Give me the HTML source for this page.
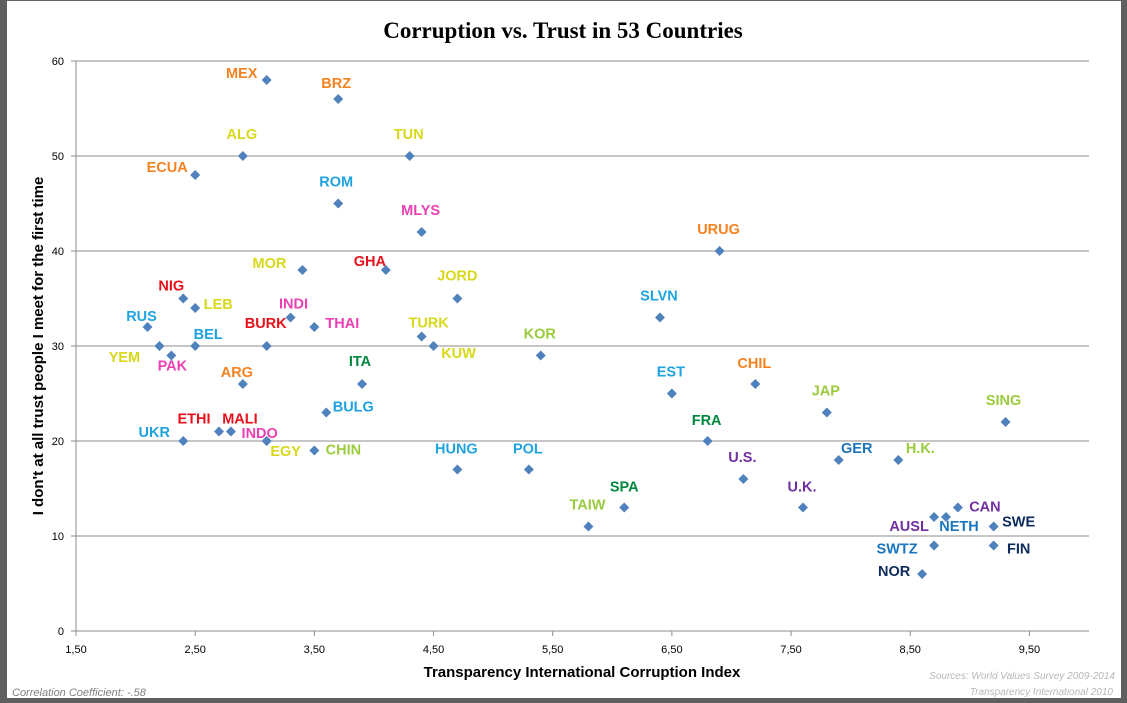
<!DOCTYPE html>
<html><head><meta charset="utf-8"><style>
html,body{margin:0;padding:0;background:#fff;}
body{width:1127px;height:703px;overflow:hidden;position:relative;}
.frame{position:absolute;left:0;top:0;width:1127px;height:703px;box-sizing:border-box;border-left:7px solid #5f5f5f;border-right:6px solid #5f5f5f;border-bottom:5px solid #5f5f5f;border-top:1px solid #5f5f5f;}
svg{position:absolute;left:0;top:0;}
</style></head><body>
<div class="frame"></div>
<svg width="1127" height="703" id="chart" font-family="Liberation Sans, sans-serif">
<text x="563" y="38" text-anchor="middle" font-family="Liberation Serif, serif" font-weight="bold" font-size="23" fill="#000">Corruption vs. Trust in 53 Countries</text>
<g id="grid"></g><g id="axes"></g><g id="marks"></g>
<text transform="translate(43,346) rotate(-90)" text-anchor="middle" font-weight="bold" font-size="15" fill="#000">I don't at all trust people I meet for the first time</text>
<text x="582" y="677" text-anchor="middle" font-weight="bold" font-size="15" fill="#000">Transparency International Corruption Index</text>
<text x="12" y="696" font-style="italic" font-size="11" fill="#808080">Correlation Coefficient: -.58</text>
<text x="1115" y="679" text-anchor="end" font-style="italic" font-size="10" fill="#b8b8b8">Sources: World Values Survey 2009-2014</text>
<text x="1113" y="695" text-anchor="end" font-style="italic" font-size="10" fill="#b8b8b8">Transparency International 2010</text>
</svg>
<script>
const countries=["MEX","BRZ","ALG","TUN","ECUA","ROM","MLYS","URUG","MOR","GHA","JORD","NIG","LEB","INDI","THAI","RUS","SLVN","BURK","BEL","YEM","PAK","TURK","KUW","KOR","ARG","ITA","CHIL","EST","JAP","SING","BULG","UKR","ETHI","MALI","INDO","EGY","CHIN","FRA","HUNG","POL","U.S.","GER","H.K.","SPA","TAIW","U.K.","CAN","AUSL","NETH","SWE","SWTZ","FIN","NOR"];
const corruption=[3.1,3.7,2.9,4.3,2.5,3.7,4.4,6.9,3.4,4.1,4.7,2.4,2.5,3.3,3.5,2.1,6.4,3.1,2.5,2.2,2.3,4.4,4.5,5.4,2.9,3.9,7.2,6.5,7.8,9.3,3.6,2.4,2.7,2.8,3.1,3.1,3.5,6.8,4.7,5.3,7.1,7.9,8.4,6.1,5.8,7.6,8.9,8.7,8.8,9.2,8.7,9.2,8.6];
const distrust=[58,56,50,50,48,45,42,40,38,38,35,35,34,33,32,32,33,30,30,30,29,31,30,29,26,26,26,25,23,22,23,20,21,21,20,20,19,20,17,17,16,18,18,13,11,13,13,12,12,11,9,9,6];
const groups=["o","o","y","y","o","b","p","o","y","r","y","r","y","p","p","b","b","r","b","y","p","y","y","g","o","dg","o","b","g","g","b","b","r","r","p","y","g","dg","b","b","pu","mb","g","dg","g","pu","pu","pu","mb","n","mb","n","n"];
const labelOffsets=[[-25,-7],[-2,-16],[-1,-22],[-1,-22],[-28,-8],[-2,-22],[-1,-22],[-1,-22],[-33,-7],[-16,-9],[0,-23],[-12,-13],[23,-4],[3,-14],[28,-4],[-6,-11],[-1,-22],[-1,-23],[13,-12],[-35,11],[1,10],[7,-14],[25,7],[-1,-22],[-6,-12],[-2,-23],[-1,-21],[-1,-22],[-1,-22],[-2,-22],[27,-6],[-29,-9],[-25,-13],[9,-13],[-7,-8],[19,10],[29,-1],[-1,-21],[-1,-21],[-1,-21],[-1,-22],[18,-12],[22,-12],[0,-21],[-1,-22],[-1,-21],[27,-1],[-25,9],[13,9],[25,-5],[-37,3],[25,3],[-28,-3]];
const xTicks=[1.5,2.5,3.5,4.5,5.5,6.5,7.5,8.5,9.5];
const yTicks=[0,10,20,30,40,50,60];
const palette={o:"#f5821f",y:"#d8d81a",b:"#1fa3e0",p:"#ec3fb4",r:"#e8101a",g:"#9acb3c",dg:"#00873d",pu:"#7030a0",mb:"#1b75bc",n:"#0c2a5c"};
const X0=76,X1=1089,Y0=631,Y1=61,xmin=1.5,xmax=10,ymin=0,ymax=60;
const xs=v=>X0+(v-xmin)/(xmax-xmin)*(X1-X0);
const ys=v=>Y0-(v-ymin)/(ymax-ymin)*(Y0-Y1);
const NS="http://www.w3.org/2000/svg";
function mk(tag,attrs,parent){const e=document.createElementNS(NS,tag);for(const k in attrs)e.setAttribute(k,attrs[k]);parent.appendChild(e);return e;}
const grid=document.getElementById('grid'),axes=document.getElementById('axes'),marks=document.getElementById('marks');
yTicks.forEach(t=>{
  if(t>0){const g=mk('line',{x1:X0,x2:X1,y1:ys(t),y2:ys(t),stroke:'#8c8c8c','stroke-width':1},grid);
  
  }
  mk('line',{x1:X0-5,x2:X0,y1:ys(t),y2:ys(t),stroke:'#8c8c8c'},axes);
  const tx=mk('text',{x:X0-12,y:ys(t)+4,'text-anchor':'end','font-size':11,fill:'#000'},axes);
  tx.textContent=t;
  
  
});
xTicks.forEach(t=>{
  mk('line',{x1:xs(t),x2:xs(t),y1:Y0,y2:Y0+5,stroke:'#8c8c8c'},axes);
  const tx=mk('text',{x:xs(t),y:Y0+22,'text-anchor':'middle','font-size':11,fill:'#000'},axes);
  tx.textContent=t.toFixed(2).replace('.',',');
  
  
});
const ya=mk('line',{x1:X0,x2:X0,y1:Y1,y2:Y0,stroke:'#8c8c8c'},axes);


const xa=mk('line',{x1:X0,x2:X1,y1:Y0,y2:Y0,stroke:'#8c8c8c'},axes);


countries.forEach((c,i)=>{
  const px=xs(corruption[i]),py=ys(distrust[i]);
  const d=mk('path',{d:`M${px} ${py-5}L${px+5} ${py}L${px} ${py+5}L${px-5} ${py}Z`,fill:'#4f81bd'},marks);
  
  
  const o=labelOffsets[i];
  const t=mk('text',{x:px+o[0],y:py+o[1]+5,'text-anchor':'middle','font-size':14.5,'font-weight':'bold',fill:palette[groups[i]]},marks);
  t.textContent=c;
  
  
});
</script>
</body></html>
